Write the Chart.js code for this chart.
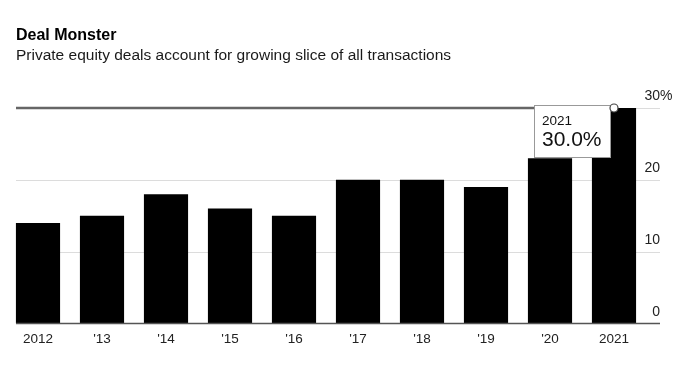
<!DOCTYPE html>
<html>
<head>
<meta charset="utf-8">
<script src="https://cdn.jsdelivr.net/npm/chart.js@4/dist/chart.umd.min.js"></script>
<style>
  html, body { margin: 0; padding: 0; background: #fff; }
  #wrap { position: relative; width: 680px; height: 374px; font-family: 'Liberation Sans', Arial, sans-serif; }
  #title { position: absolute; left: 16px; top: 25px; font-size: 16px; font-weight: bold; color: #000; line-height: 20px; }
  #subtitle { position: absolute; left: 16px; top: 45px; font-size: 15.5px; color: #1a1a1a; line-height: 20px; }
  canvas { position: absolute; left: 0; top: 0; }
</style>
</head>
<body>
<div id="wrap">
  <canvas id="chart" width="680" height="374"></canvas>
  <div id="title">Deal Monster</div>
  <div id="subtitle">Private equity deals account for growing slice of all transactions</div>
</div>
<script>
const years = ['2012', "'13", "'14", "'15", "'16", "'17", "'18", "'19", "'20", '2021'];
const shares = [14, 15, 18, 16, 15, 20, 20, 19, 23, 30];
const yTicks = [0, 10, 20, 30];
const hoverIndex = 9;

const FONT = "'Liberation Sans', Arial, sans-serif";
const GRID_LEFT = 16;
const GRID_RIGHT = 660;

const gridPlugin = {
  id: 'bbgGrid',
  beforeDatasetsDraw(chart) {
    const ctx = chart.ctx;
    const y = chart.scales.y;
    ctx.save();
    ctx.strokeStyle = '#dcdcdc';
    ctx.lineWidth = 1;
    yTicks.forEach(v => {
      if (v === 0) return;
      const py = Math.round(y.getPixelForValue(v)) + 0.5;
      ctx.beginPath();
      ctx.moveTo(GRID_LEFT, py);
      ctx.lineTo(GRID_RIGHT, py);
      ctx.stroke();
    });
    ctx.restore();
  },
  afterDatasetsDraw(chart) {
    const ctx = chart.ctx;
    const y = chart.scales.y;
    ctx.save();

    // baseline
    const by = y.getPixelForValue(0);
    ctx.strokeStyle = '#555';
    ctx.lineWidth = 1.5;
    ctx.beginPath();
    ctx.moveTo(GRID_LEFT, by);
    ctx.lineTo(GRID_RIGHT, by);
    ctx.stroke();

    // right-side value labels, sitting above their lines
    ctx.fillStyle = '#222';
    ctx.font = '14px ' + FONT;
    ctx.textBaseline = 'alphabetic';
    yTicks.forEach((v, i) => {
      const py = y.getPixelForValue(v) - 8;
      ctx.textAlign = 'right';
      ctx.fillText(String(v), GRID_RIGHT, py);
      if (i === yTicks.length - 1) {
        ctx.textAlign = 'left';
        ctx.fillText('%', GRID_RIGHT, py);
      }
    });

    // hover crosshair + tooltip on the latest year
    const bar = chart.getDatasetMeta(0).data[hoverIndex];
    const px = bar.x;
    const py = y.getPixelForValue(shares[hoverIndex]);
    ctx.strokeStyle = '#666';
    ctx.lineWidth = 2.5;
    ctx.beginPath();
    ctx.moveTo(GRID_LEFT, py);
    ctx.lineTo(px, py);
    ctx.stroke();

    const bw = 76, bh = 52;
    const bx = px - 4 - bw;
    const bTop = py - 3;
    ctx.fillStyle = '#fff';
    ctx.fillRect(bx, bTop, bw, bh);
    ctx.strokeStyle = '#999';
    ctx.lineWidth = 1;
    ctx.strokeRect(Math.round(bx) + 0.5, Math.round(bTop) + 0.5, bw, bh);

    ctx.fillStyle = '#111';
    ctx.textAlign = 'left';
    ctx.font = '13.5px ' + FONT;
    ctx.fillText(years[hoverIndex], bx + 8, bTop + 20);
    ctx.font = '21px ' + FONT;
    ctx.fillText(shares[hoverIndex].toFixed(1) + '%', bx + 8, bTop + 41);

    ctx.beginPath();
    ctx.arc(px, py, 4, 0, Math.PI * 2);
    ctx.fillStyle = '#fff';
    ctx.fill();
    ctx.strokeStyle = '#444';
    ctx.lineWidth = 1.2;
    ctx.stroke();

    ctx.restore();
  }
};

new Chart(document.getElementById('chart'), {
  type: 'bar',
  data: {
    labels: years,
    datasets: [{
      data: shares,
      backgroundColor: '#000',
      borderWidth: 0,
      barPercentage: 0.69,
      categoryPercentage: 1
    }]
  },
  options: {
    responsive: false,
    animation: false,
    layout: { padding: { left: 6, right: 34, top: 108, bottom: 0 } },
    plugins: {
      legend: { display: false },
      tooltip: { enabled: false }
    },
    scales: {
      x: {
        grid: { display: false, drawTicks: false },
        border: { display: false },
        ticks: {
          color: '#222',
          font: { family: FONT, size: 13.5 },
          padding: 8,
          maxRotation: 0,
          autoSkip: false
        },
        afterFit(scale) { scale.height = 50.5; }
      },
      y: {
        display: false,
        min: 0,
        max: 30
      }
    }
  },
  plugins: [gridPlugin]
});
</script>
</body>
</html>
